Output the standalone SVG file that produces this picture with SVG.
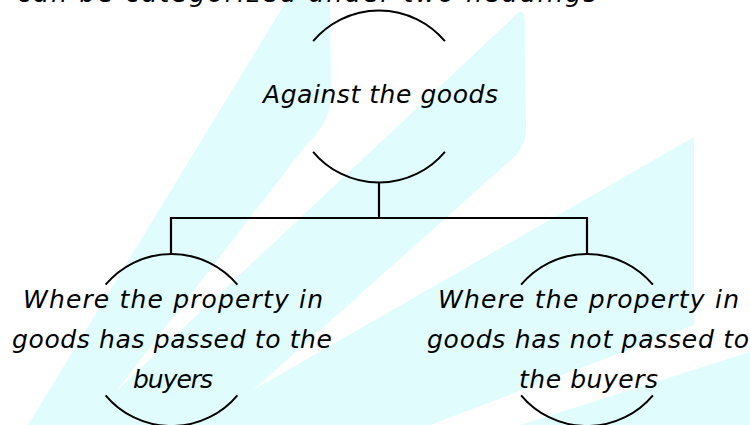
<svg xmlns="http://www.w3.org/2000/svg" width="750" height="425" viewBox="0 0 750 425">
<style>
.bg{fill:#e1fcfc;stroke:none}
.arc{fill:none;stroke:#000;stroke-width:2}
.conn{fill:none;stroke:#000;stroke-width:2.2}
text{font-family:"DejaVu Sans","Liberation Sans",sans-serif;font-style:italic;font-size:25px;fill:#000;text-anchor:middle}
</style>
<rect width="750" height="425" fill="#fff"/>
<g id="background">
<path class="bg" d="M287,0 L330,0 L331,95 Q331,122 306,145 L90,425 L28,425 Z"/>
<path class="bg" d="M519,12 Q524,10 525,20 L526,130 Q526,150 505,165 L214,425 L80,425 Z"/>
<path class="bg" d="M694,137 L694,325 L430,425 L192,425 Z"/>
<path class="bg" d="M750,352 L750,425 L520,425 Z"/>
</g>
<text x="307" y="2" textLength="579">can be categorized under two headings</text>
<g id="connectors">
<path class="conn" d="M379,183 V218 M171,218 H587 M171,217 V254 M587,217 V254"/>
</g>
<g id="node-top">
<path class="arc" d="M313.1,41.2 A86,86 0 0 1 444.9,41.2"/>
<path class="arc" d="M313.1,151.8 A86,86 0 0 0 444.9,151.8"/>
<text x="380.5" y="103" textLength="235">Against the goods</text>
</g>
<g id="node-left">
<path class="arc" d="M105.6,284.7 A86,86 0 0 1 237.4,284.7"/>
<path class="arc" d="M105.6,395.3 A86,86 0 0 0 237.4,395.3"/>
<text x="173" y="308" textLength="300">Where the property in</text>
<text x="172" y="348" textLength="320">goods has passed to the</text>
<text x="173" y="388" textLength="80">buyers</text>
</g>
<g id="node-right">
<path class="arc" d="M521.1,284.7 A86,86 0 0 1 652.9,284.7"/>
<path class="arc" d="M521.1,395.3 A86,86 0 0 0 652.9,395.3"/>
<text x="588.5" y="308" textLength="301">Where the property in</text>
<text x="588" y="348" textLength="322">goods has not passed to</text>
<text x="588.5" y="388" textLength="139">the buyers</text>
</g>
</svg>
